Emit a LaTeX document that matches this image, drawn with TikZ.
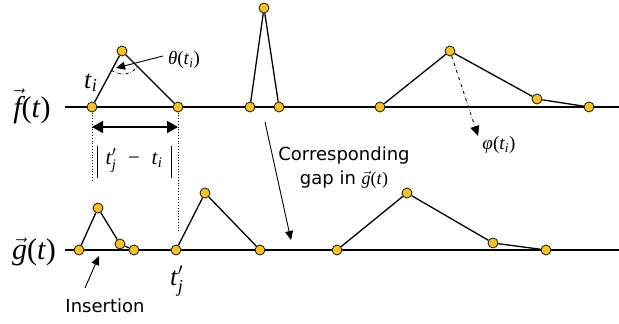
\documentclass[tikz,border=0pt]{standalone}
\usepackage{amsmath}
\usepackage{fontspec}
\setmainfont{Liberation Serif}
\newfontfamily\sansf{DejaVu Sans}
\usetikzlibrary{arrows.meta,calc}
\definecolor{gold}{RGB}{246,194,30}
\newcommand{\ti}{\textit{t}\textsubscript{\textit{i}}}
\newcommand{\tjp}{\textit{t}$^{\prime}_{\textit{j}}$}
\begin{document}
\begin{tikzpicture}[x=1pt,y=-1pt,
  pt/.style={circle,draw=black,line width=0.7pt,fill=gold,inner sep=0pt,minimum size=10pt},
  axisline/.style={line width=2.2pt},
  seg/.style={line width=1.3pt},
  lbl/.style={inner sep=0pt},
  sanslbl/.style={inner sep=0pt,font=\sansf\fontsize{18}{24}\selectfont},
  thinarrow/.style={line width=0.9pt,-{Triangle[length=9pt,width=8pt]}},
  dotline/.style={dotted,line width=0.8pt}]
\useasboundingbox (0,0) rectangle (619,324);

% axes
\coordinate (fL) at (65,107);
\coordinate (fR) at (619,107);
\coordinate (gL) at (65,250);
\coordinate (gR) at (619,250);
\draw[axisline] (fL) -- (fR);
\draw[axisline] (gL) -- (gR);

% axis labels
\node[lbl,anchor=base] (flab) at (32,117) {\fontsize{30}{30}\selectfont$\vec{\hbox{\itshape f}}$(\textit{t})};
\node[lbl,anchor=base] (glab) at (34,259) {\fontsize{30}{30}\selectfont$\vec{\hbox{\itshape g}}$(\textit{t})};

% dotted guides
\coordinate (dt1) at (92,180);
\coordinate (dt3) at (178,233);
\draw[dotline] (92,107) -- (dt1);
\draw[dotline] (178,107) -- (dt3);

% top points
\node[pt] (f1) at (92,107) {};
\node[pt] (f2) at (122,51) {};
\node[pt] (f3) at (178,107) {};
\node[pt] (f4) at (250,107) {};
\node[pt] (f5) at (264,8) {};
\node[pt] (f6) at (279,107) {};
\node[pt] (f7) at (380,107) {};
\node[pt] (f8) at (450,51) {};
\node[pt] (f9) at (537,99) {};
\node[pt] (f10) at (589,107) {};
\draw[seg] (f1) -- (f2) -- (f3);
\draw[seg] (f4) -- (f5) -- (f6);
\draw[seg] (f7) -- (f8) -- (f9) -- (f10);

% bottom points
\node[pt] (g1) at (79,250) {};
\node[pt] (g2) at (98,208) {};
\node[pt] (g3) at (120,244) {};
\node[pt] (g4) at (134,250) {};
\node[pt] (g5) at (176,250) {};
\node[pt] (g6) at (205,193) {};
\node[pt] (g7) at (260,250) {};
\node[pt] (g8) at (337,250) {};
\node[pt] (g9) at (407,193) {};
\node[pt] (g10) at (493,243) {};
\node[pt] (g11) at (546,250) {};
\draw[seg] (g1) -- (g2) -- (g3) -- (g4);
\draw[seg] (g5) -- (g6) -- (g7);
\draw[seg] (g8) -- (g9) -- (g10) -- (g11);

% angle arc
\draw[dash dot,line width=0.8pt] ($(f2)!22pt!(f1)$) to[bend right=45] ($(f2)!22pt!(f3)$);

% labels
\node[lbl,anchor=base west] (tilab) at (84,88) {\fontsize{26}{26}\selectfont\ti};
\node[lbl,anchor=base west] (tjlab) at (170,285) {\fontsize{26}{26}\selectfont\tjp};
\node[lbl] (thlab) at (184,60) {\fontsize{19}{19}\selectfont\textit{θ}(\ti)};
\node[lbl] (phlab) at (499,145) {\fontsize{19}{19}\selectfont\textit{φ}(\ti)};
\node[lbl] (dflab) at (134,161) {\fontsize{21}{21}\selectfont\tjp\;\;−\;\;\ti};
\draw[line width=1pt] (97,146) -- (97,178);
\draw[line width=1pt] (171,146) -- (171,178);

% double arrow
\coordinate (da1) at (92,127);
\coordinate (da2) at (178,127);
\draw[line width=1.6pt,{Triangle[length=11pt,width=12pt]}-{Triangle[length=11pt,width=12pt]}] (da1) -- (da2);

% theta arrow
\coordinate (thA) at (163,56);
\coordinate (thB) at (116,68);
\draw[thinarrow] (thA) -- (thB);

% phi arrow
\coordinate (phB) at (478,136);
\draw[dash dot,line width=0.9pt,-{Triangle[length=10pt,width=9pt]}] (f8) -- (phB);

% corresponding gap
\node[sanslbl,align=center] (gaplab) at (344,168) {Corresponding\\gap in {\rmfamily\fontsize{18}{24}\selectfont$\vec{\hbox{\itshape g}}$(\textit{t})}};
\coordinate (gapA) at (265,122);
\coordinate (gapB) at (291,240);
\draw[thinarrow] (gapA) -- (gapB);

% insertion
\node[sanslbl,anchor=base] (inslab) at (105,312) {Insertion};
\coordinate (insA) at (85,288);
\coordinate (insB) at (99,256);
\draw[thinarrow] (insA) -- (insB);
\end{tikzpicture}
\end{document}
